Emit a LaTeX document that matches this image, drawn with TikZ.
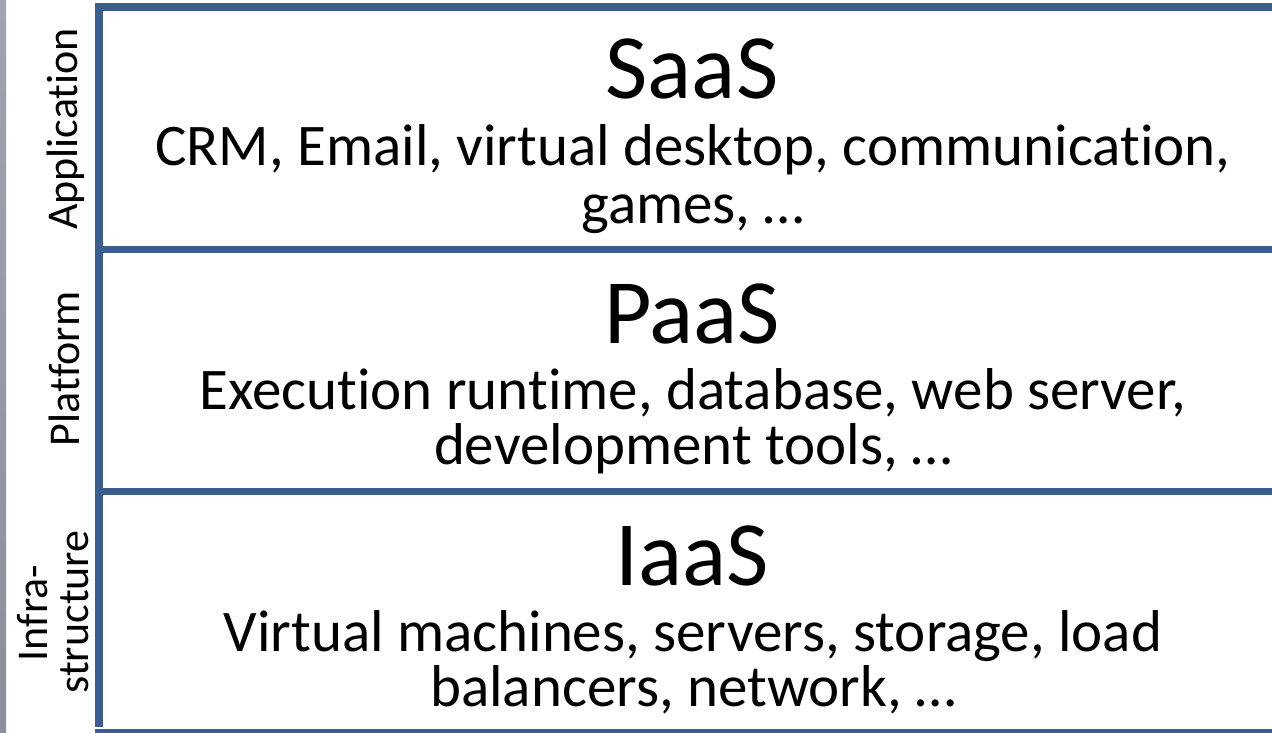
\documentclass[tikz,border=0pt]{standalone}
\usepackage{fontspec}
\setmainfont[Ligatures={NoCommon}]{Carlito}
\definecolor{frameblue}{HTML}{3B5E8C}
\definecolor{stripgray}{HTML}{A0A4B2}
\definecolor{stripdark}{HTML}{8C8F9A}
\begin{document}
\begin{tikzpicture}[x=1pt,y=-1pt,
  frameline/.style={draw=frameblue,line width=8pt},
  divline/.style={draw=frameblue,line width=7pt},
  title/.style={anchor=base,inner sep=0pt,font=\fontsize{92}{100}\selectfont},
  body/.style={anchor=base,inner sep=0pt,font=\fontsize{59}{67}\selectfont},
  side/.style={anchor=base,inner sep=0pt,rotate=90,font=\fontsize{44}{50}\selectfont}]
\useasboundingbox (0,0) rectangle (1272,733);
\begin{scope}
\clip (0,0) rectangle (1272,733);
\shade[top color=stripgray,bottom color=stripdark] (0,0) rectangle (6,733);
% frame
\coordinate (tl) at (99,7);
\coordinate (tr) at (1280,7);
\coordinate (bl) at (99,733);
\coordinate (br) at (1280,733);
\coordinate (d1l) at (99,249.5);
\coordinate (d1r) at (1280,249.5);
\coordinate (d2l) at (99,491.5);
\coordinate (d2r) at (1280,491.5);
\draw[frameline] (tr) -- (tl) -- ([yshift=6pt]bl);
\draw[frameline] ([xshift=-4pt]bl) -- (br);
\draw[divline] (d1l) -- (d1r);
\draw[divline] (d2l) -- (d2r);
\end{scope}
% layer texts
\node[title] (saas) at (692,99) {SaaS};
\node[body] (saas1) at (693,166) {CRM, Email, virtual desktop, communication,};
\node[body] (saas2) at (693,223) {games, \dots};
\node[title] (paas) at (692,343) {PaaS};
\node[body] (paas1) at (693,409) {Execution runtime, database, web server,};
\node[body] (paas2) at (693,464) {development tools, \dots};
\node[title] (iaas) at (692,585) {IaaS};
\node[body] (iaas1) at (693,651) {Virtual machines, servers, storage, load};
\node[body] (iaas2) at (693,706) {balancers, network, \dots};
% side labels
\node[side] (app) at (77,129) {Application};
\node[side] (plat) at (79,369) {Platform};
\node[side] (infra) at (47,613) {Infra-};
\node[side] (struct) at (88,612) {structure};
\end{tikzpicture}
\end{document}
